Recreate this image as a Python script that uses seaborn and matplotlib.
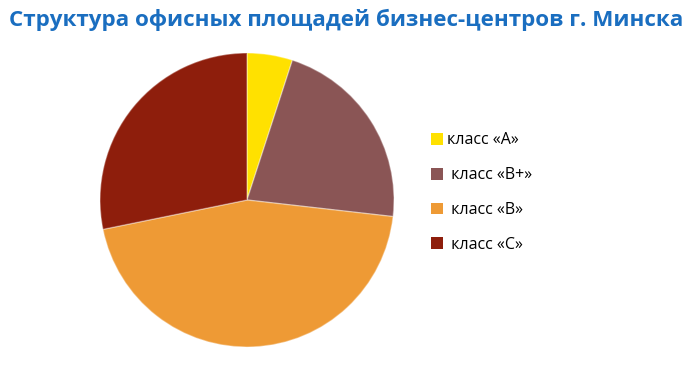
import matplotlib
matplotlib.use("Agg")
import matplotlib.pyplot as plt
import seaborn as sns
from matplotlib.patches import Patch

sns.set_style("white")
plt.rcParams['font.family'] = ['Open Sans', 'DejaVu Sans']

categories = ["класс «А»", " класс «В+»", " класс «В»", " класс «С»"]
values = [5.0, 21.8, 45.0, 28.2]
colors = ["#FFE100", "#8A5555", "#EE9A35", "#8E1E0C"]
title = "Структура офисных площадей бизнес-центров г. Минска"

fig = plt.figure(figsize=(6.96, 3.66), dpi=100)
ax = fig.add_axes([100/696, 19/366, 294/696, 294/366])
ax.pie(values, colors=colors, startangle=90, counterclock=False, radius=1.0,
       wedgeprops=dict(edgecolor=(1, 1, 1, 0.35), linewidth=1.0))
ax.set_xlim(-1, 1)
ax.set_ylim(-1, 1)
ax.set_aspect('equal')
ax.axis('off')

fig.text(0.5 - 2/696, 1 - 20/366, title, ha='center', va='center',
         fontsize=16.1, fontweight='bold', color='#1A6EC0')

handles = [Patch(facecolor=c, edgecolor='none') for c in colors]
leg = fig.legend(handles, categories, loc='upper left',
                 bbox_to_anchor=(417/696, 1 - 118/366), frameon=False,
                 fontsize=11.5, handlelength=0.75, handleheight=0.75,
                 labelspacing=1.18, handletextpad=0.25, labelcolor='black')
fig.savefig("out.png", dpi=100)
